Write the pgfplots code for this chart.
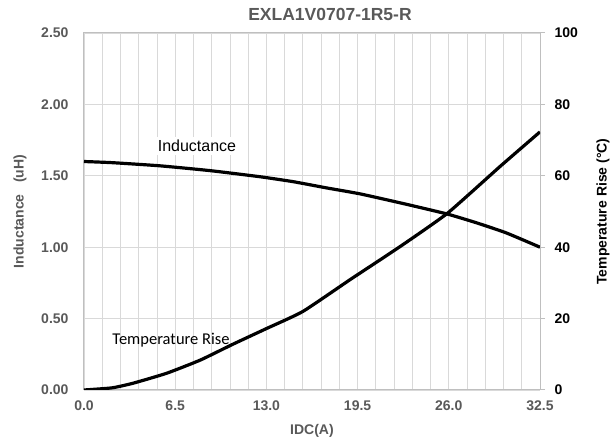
\documentclass[border=0pt]{standalone}
\usepackage{pgfplots}
\pgfplotsset{compat=1.18}
\usepackage{fontspec}
\setmainfont{Liberation Sans}
\newfontfamily\calibri{Carlito}
\definecolor{lblgray}{HTML}{595959}
\definecolor{gridgray}{HTML}{D9D9D9}
\definecolor{axgray}{HTML}{BFBFBF}

\pgfplotstableread{
x L
0 1.600
2 1.592
5.4 1.570
9 1.536
12.5 1.494
14.9 1.459
17.3 1.415
19.7 1.373
23 1.300
25.9 1.232
28 1.170
30.1 1.100
32.5 1.000
}\inductance

\pgfplotstableread{
x T
0 0
2 0.6
3.5 1.9
5.9 4.7
8.3 8.4
10.6 12.8
13 17.2
15.6 22.0
19 31.0
22.5 40.1
25.9 49.5
29.65 62.6
32.5 72.3
}\temprise

\begin{document}
\begin{tikzpicture}
\useasboundingbox (-84pt,-56pt) rectangle (529pt,390pt);
\pgfplotsset{
  base/.style={
    scale only axis, width=456pt, height=357pt,
    xmin=0, xmax=32.5,
    /pgf/number format/assume math mode=true,
    tick label style={font=\fontsize{14}{16}\selectfont\bfseries},
  }
}
\begin{axis}[base,
  ymin=0, ymax=2.5,
  xtick={0,6.5,13,19.5,26,32.5},
  minor x tick num=4,
  ytick={0,0.5,1,1.5,2,2.5},
  xmajorgrids, xminorgrids, ymajorgrids,
  grid style={gridgray, line width=0.8pt},
  minor grid style={gridgray, line width=0.8pt},
  major tick length=0pt, minor tick length=0pt,
  axis line style={axgray, line width=1pt},
  xticklabel style={text=lblgray, yshift=-7pt, /pgf/number format/.cd, fixed, fixed zerofill, precision=1},
  yticklabel style={text=lblgray, xshift=-12pt, /pgf/number format/.cd, fixed, fixed zerofill, precision=2},
  title={EXLA1V0707-1R5-R},
  every axis title/.style={at={(rel axis cs:0.5,1)}, xshift=18pt, yshift=19pt, anchor=center,
    font=\fontsize{17.5}{20}\selectfont\bfseries, text=lblgray},
  xlabel={IDC(A)},
  every axis x label/.style={at={(rel axis cs:0.5,0)}, yshift=-41pt, anchor=center,
    font=\fontsize{14}{16}\selectfont\bfseries, text=lblgray},
  ylabel={Inductance\ \ \ (uH)},
  every axis y label/.style={at={(rel axis cs:0,0.5)}, xshift=-64pt, rotate=90, anchor=center,
    font=\fontsize{14}{16}\selectfont\bfseries, text=lblgray},
]
\addplot[black, line width=3.2pt, smooth, tension=0.3] table[x=x, y=L] {\inductance};
\node[fill=white, inner xsep=6pt, inner ysep=3pt, font=\fontsize{16}{18}\selectfont] at (axis cs:8.05,1.709) {Inductance};
\node[font=\calibri\fontsize{16.5}{18}\selectfont] at (axis cs:6.2,0.35) {Temperature Rise};
\end{axis}
\begin{axis}[base,
  ymin=0, ymax=100,
  axis x line=none,
  axis y line*=right,
  y axis line style={axgray, line width=1pt},
  ytick={0,20,40,60,80,100},
  ytick style={axgray, line width=1pt},
  tick align=outside, major tick length=5pt,
  yticklabel style={text=black, xshift=6pt},
  ylabel={Temperature Rise (°C)},
  every axis y label/.style={at={(rel axis cs:1,0.5)}, xshift=63pt, rotate=90, anchor=center,
    font=\fontsize{14}{16}\selectfont\bfseries, text=black},
]
\addplot[black, line width=3.2pt, smooth, tension=0.3] table[x=x, y=T] {\temprise};
\end{axis}
\end{tikzpicture}
\end{document}
